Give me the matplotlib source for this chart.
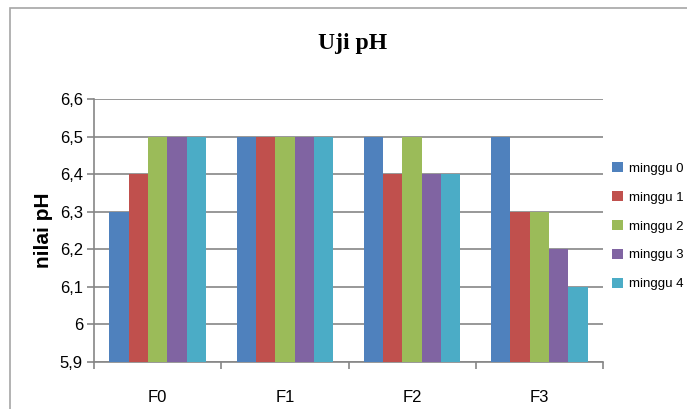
import matplotlib
matplotlib.use("Agg")
import matplotlib.pyplot as plt
import numpy as np
from matplotlib.patches import Rectangle

# pH per formula, measured each week
formulas = ["F0", "F1", "F2", "F3"]
weeks = ["minggu 0", "minggu 1", "minggu 2", "minggu 3", "minggu 4"]
ph_minggu0 = [6.3, 6.5, 6.5, 6.5]
ph_minggu1 = [6.4, 6.5, 6.4, 6.3]
ph_minggu2 = [6.5, 6.5, 6.5, 6.3]
ph_minggu3 = [6.5, 6.5, 6.4, 6.2]
ph_minggu4 = [6.5, 6.5, 6.4, 6.1]
y_ticks = [5.9, 6.0, 6.1, 6.2, 6.3, 6.4, 6.5, 6.6]

series = [ph_minggu0, ph_minggu1, ph_minggu2, ph_minggu3, ph_minggu4]
colors = ["#4F81BD", "#C0504D", "#9BBB59", "#8064A2", "#4BACC6"]

plt.rcParams["font.family"] = ["Liberation Sans", "DejaVu Sans"]

W, H = 687, 409
fig = plt.figure(figsize=(W / 100, H / 100), dpi=100)

# chart frame, runs off the right and bottom edges
fig.patches.append(Rectangle((10 / W, -0.1), 1.0, 1 - 8 / H + 0.1,
                             transform=fig.transFigure, fill=False,
                             edgecolor="#A6A6A6", linewidth=1.2))

ax = fig.add_axes([94 / W, 1 - 362 / H, (603 - 94) / W, (362 - 99) / H])

x = np.arange(len(formulas))
group = 0.76
bw = group / len(series)
for i, (vals, c, lab) in enumerate(zip(series, colors, weeks)):
    ax.bar(x - group / 2 + bw * (i + 0.5), np.array(vals) - 5.9, bw,
           bottom=5.9, color=c, label=lab, zorder=3)

ax.set_xlim(-0.5, len(formulas) - 0.5)
ax.set_ylim(5.9, 6.6)
ax.set_yticks(y_ticks)
ax.set_yticklabels([("%g" % v).replace(".", ",") for v in y_ticks], fontsize=12)
ax.yaxis.grid(True, color="#868686", linewidth=1.2, zorder=0)

ax.set_xticks(x)
ax.set_xticklabels(formulas, fontsize=12)
ax.tick_params(axis="x", length=0, pad=20)
ax.set_xticks(np.arange(len(formulas) + 1) - 0.5, minor=True)
ax.tick_params(axis="x", which="minor", length=5, color="#868686", width=1.2)
ax.tick_params(axis="y", length=5, color="#868686", width=1.2, pad=3)

for s in ["top", "right"]:
    ax.spines[s].set_visible(False)
for s in ["left", "bottom"]:
    ax.spines[s].set_color("#868686")
    ax.spines[s].set_linewidth(1.2)

ax.set_ylabel("nilai pH", fontsize=15, fontweight="bold", labelpad=5)

fig.text(353 / W, 1 - 43 / H, "Uji pH", ha="center", va="center",
         fontsize=17, fontweight="bold",
         family=["Liberation Serif", "DejaVu Serif"])

fig.legend(loc="upper left", bbox_to_anchor=(607 / W, 1 - 157 / H),
           frameon=False, fontsize=9.5, handlelength=0.8, handleheight=0.8,
           handletextpad=0.45, labelspacing=1.23, borderaxespad=0)

fig.savefig("out.png", dpi=100)
